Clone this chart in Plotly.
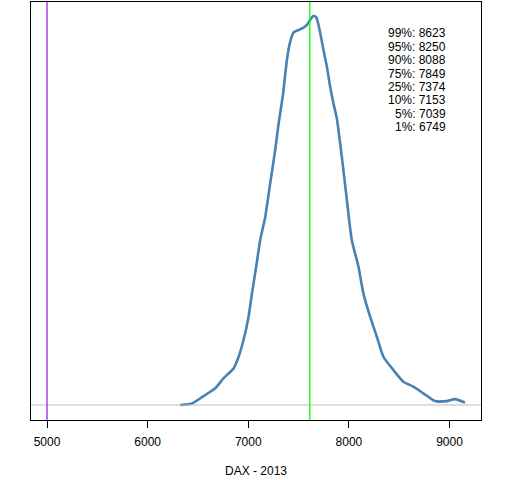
import plotly.graph_objects as go

# Density estimate of DAX level (normalised so the peak is 1)
dax_level = [6325, 6441, 6556, 6672, 6755, 6854, 6904, 6953, 7003, 7037, 7079,
             7119, 7169, 7218, 7268, 7301, 7346, 7384, 7417, 7450, 7499, 7549,
             7583, 7615, 7648, 7675, 7698, 7722, 7747, 7781, 7814, 7847, 7880,
             7930, 7980, 8029, 8095, 8144, 8211, 8277, 8343, 8442, 8541, 8641,
             8740, 8856, 8972, 9055, 9154]
density = [0.000, 0.004, 0.023, 0.043, 0.069, 0.094, 0.124, 0.167, 0.227, 0.287,
           0.356, 0.424, 0.484, 0.570, 0.656, 0.722, 0.800, 0.887, 0.934, 0.958,
           0.964, 0.970, 0.977, 0.990, 1.000, 0.997, 0.977, 0.947, 0.913, 0.870,
           0.818, 0.775, 0.737, 0.638, 0.527, 0.424, 0.356, 0.287, 0.227, 0.176,
           0.124, 0.090, 0.060, 0.047, 0.030, 0.010, 0.010, 0.015, 0.006]

quantile_labels = ["99%", "95%", "90%", "75%", "25%", "10%", "5%", "1%"]
quantile_values = [8623, 8250, 8088, 7849, 7374, 7153, 7039, 6749]

reference_level = 5000
current_level = 7612
x_ticks = [5000, 6000, 7000, 8000, 9000]
x_title = "DAX - 2013"

FONT = "Liberation Sans, Arial"

fig = go.Figure()
fig.add_trace(go.Scatter(x=dax_level, y=density, mode="lines",
                         line=dict(color="#4682B4", width=2.6, shape="spline",
                                   smoothing=0.6),
                         hoverinfo="skip", showlegend=False))

# horizontal zero line
fig.add_shape(type="line", xref="paper", yref="y", x0=0, x1=1, y0=0, y1=0,
              line=dict(color="#BEBEBE", width=1))
fig.add_shape(type="line", xref="x", yref="paper", x0=reference_level,
              x1=reference_level, y0=0, y1=1, line=dict(color="#A020F0", width=1.3))
fig.add_shape(type="line", xref="x", yref="paper", x0=current_level,
              x1=current_level, y0=0, y1=1, line=dict(color="#00FF00", width=1.3))

top_px = 2
bottom_px = 420
for i, (lab, val) in enumerate(zip(quantile_labels, quantile_values)):
    py = 33.3 + i * 13.43
    fig.add_annotation(xref="paper", yref="paper",
                       x=(448 - 31) / 450, y=(bottom_px - py) / (bottom_px - top_px),
                       xanchor="right", yanchor="middle", showarrow=False,
                       text=f"{lab}: {val}",
                       font=dict(family=FONT, size=12, color="black"))

fig.add_annotation(xref="paper", yref="paper", x=(256 - 31) / 450,
                   y=(bottom_px - 471) / (bottom_px - top_px),
                   xanchor="center", yanchor="middle", showarrow=False,
                   text=x_title,
                   font=dict(family=FONT, size=12, color="black"))

fig.update_layout(
    width=512, height=480,
    margin=dict(l=31, r=31, t=2, b=60, pad=0),
    plot_bgcolor="white", paper_bgcolor="white",
    xaxis=dict(range=[4841, 9313], tickvals=x_ticks,
               ticktext=[str(t) for t in x_ticks],
               showgrid=False, zeroline=False, showline=True, mirror=True,
               linecolor="black", linewidth=1, ticks="outside", ticklen=7,
               tickcolor="black", tickwidth=1, ticklabelstandoff=4,
               tickfont=dict(family=FONT, size=12, color="black")),
    yaxis=dict(range=[-0.0386, 1.036], showticklabels=False, ticks="",
               showgrid=False, zeroline=False, showline=True, mirror=True,
               linecolor="black", linewidth=1),
)

fig.write_html("out.html", config={"displayModeBar": False},
               post_script="document.body.style.margin='0';document.body.style.overflow='hidden';")
